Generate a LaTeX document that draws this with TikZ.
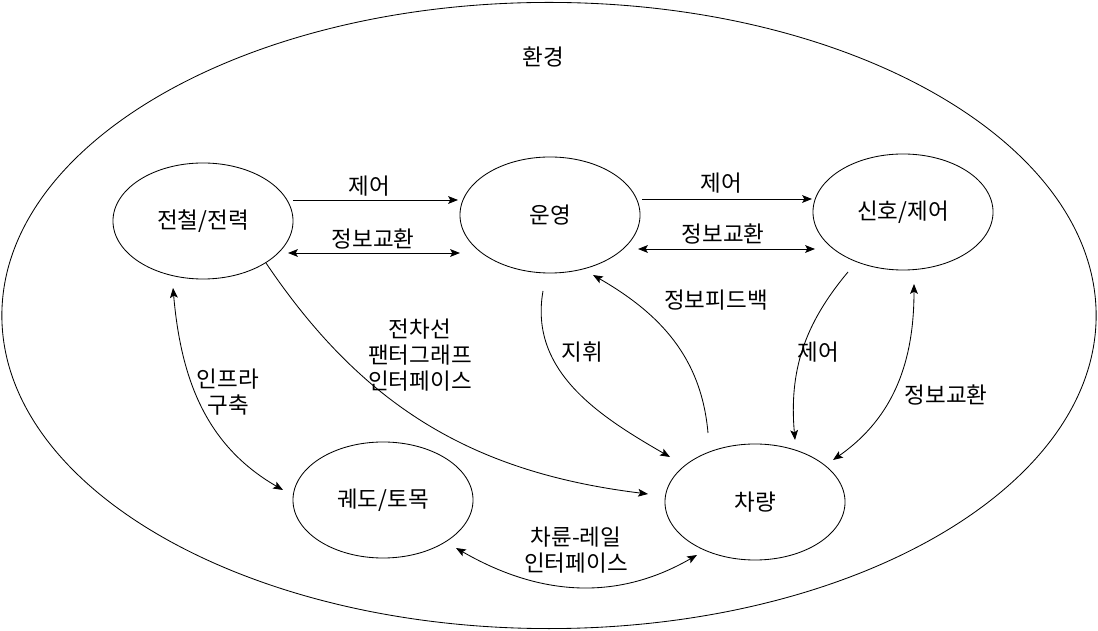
\documentclass[tikz,border=0pt]{standalone}
\usepackage{fontspec}
\setmainfont{Noto Sans CJK KR}
\usepackage{tikz}
\usetikzlibrary{arrows.meta}
\usetikzlibrary{shapes}
\usetikzlibrary{calc}
\tikzset{
  sysnode/.style = {ellipse, draw=black, line width=0.6pt, inner sep=0pt,
    minimum width=4.5cm, minimum height=2.9cm,
    font=\fontsize{16}{18.5}\selectfont},% 하위 시스템
  envnode/.style = {ellipse, draw=black, line width=0.6pt, inner sep=0pt,
    minimum width=27.35cm, minimum height=15.65cm},% 환경
  lbl/.style = {align=center, inner sep=0pt,
    font=\fontsize{16}{18.5}\selectfont},% 연결 라벨
  link/.style = {-{Stealth[length=7pt,width=5.5pt,inset=1.5pt]},
    line width=0.6pt},
  dlink/.style = {{Stealth[length=7pt,width=5.5pt,inset=1.5pt]}-{Stealth[length=7pt,width=5.5pt,inset=1.5pt]},
    line width=0.6pt}
}

\begin{document}
\begin{tikzpicture}[x=0.025cm,y=0.025cm]
\useasboundingbox (0,0) rectangle (1098,631);
\node [envnode] (env) at (549,315.5) {};
\node [lbl] (envlbl) at (543,574) {환경};

\node [sysnode] (jeon) at (203,410) {전철/전력};
\node [sysnode] (unyeong) at (550,416) {운영};
\node [sysnode] (sinho) at (903,419) {신호/제어};
\node [sysnode] (gwedo) at (383,131) {궤도/토목};
\node [sysnode] (charyang) at (755,129) {차량};

% 위쪽 가로 연결
\draw [link] ($(jeon)+(90,21)$) -- ($(unyeong)+(-92,15)$);
\draw [dlink] ($(jeon)+(85,-32)$) -- ($(unyeong)+(-90,-38)$);
\draw [link] ($(unyeong)+(92,16)$) -- ($(sinho)+(-91,13)$);
\draw [dlink] ($(unyeong)+(88,-34)$) -- ($(sinho)+(-88,-37)$);
\node [lbl] (l1) at (369,445) {제어};
\node [lbl] (l2) at (373,392) {정보교환};
\node [lbl] (l3) at (721,448) {제어};
\node [lbl] (l4) at (723,397) {정보교환};

% 곡선 연결
\draw [dlink] ($(jeon)+(-30,-67)$) to[out=-85,in=150] ($(gwedo)+(-100,10)$);
\draw [link] ($(jeon)+(63,-42)$) to[out=-56,in=173] ($(charyang)+(-107,8)$);
\draw [link] ($(unyeong)+(-7,-76)$) to[out=-100,in=150] ($(charyang)+(-85,45)$);
\draw [link] ($(charyang)+(-47,69)$) to[out=95,in=-30] ($(unyeong)+(43,-60)$);
\draw [link] ($(sinho)+(-55,-60)$) to[out=-130,in=95] ($(charyang)+(40,62)$);
\draw [dlink] ($(sinho)+(11,-72)$) to[out=-90,in=35] ($(charyang)+(78,42)$);
\draw [dlink] ($(gwedo)+(73,-48)$) to[out=-30,in=-150] ($(charyang)+(-58,-53)$);

\node [lbl] (l5) at (228,239) {인프라\\구축};
\node [lbl] (l6) at (420,276) {전차선\\팬터그래프\\인터페이스};
\node [lbl] (l7) at (582,279) {지휘};
\node [lbl] (l8) at (716,331) {정보피드백};
\node [lbl] (l9) at (818,279) {제어};
\node [lbl] (l10) at (946,236) {정보교환};
\node [lbl] (l11) at (576,81) {차륜-레일\\인터페이스};
\end{tikzpicture}
\end{document}
